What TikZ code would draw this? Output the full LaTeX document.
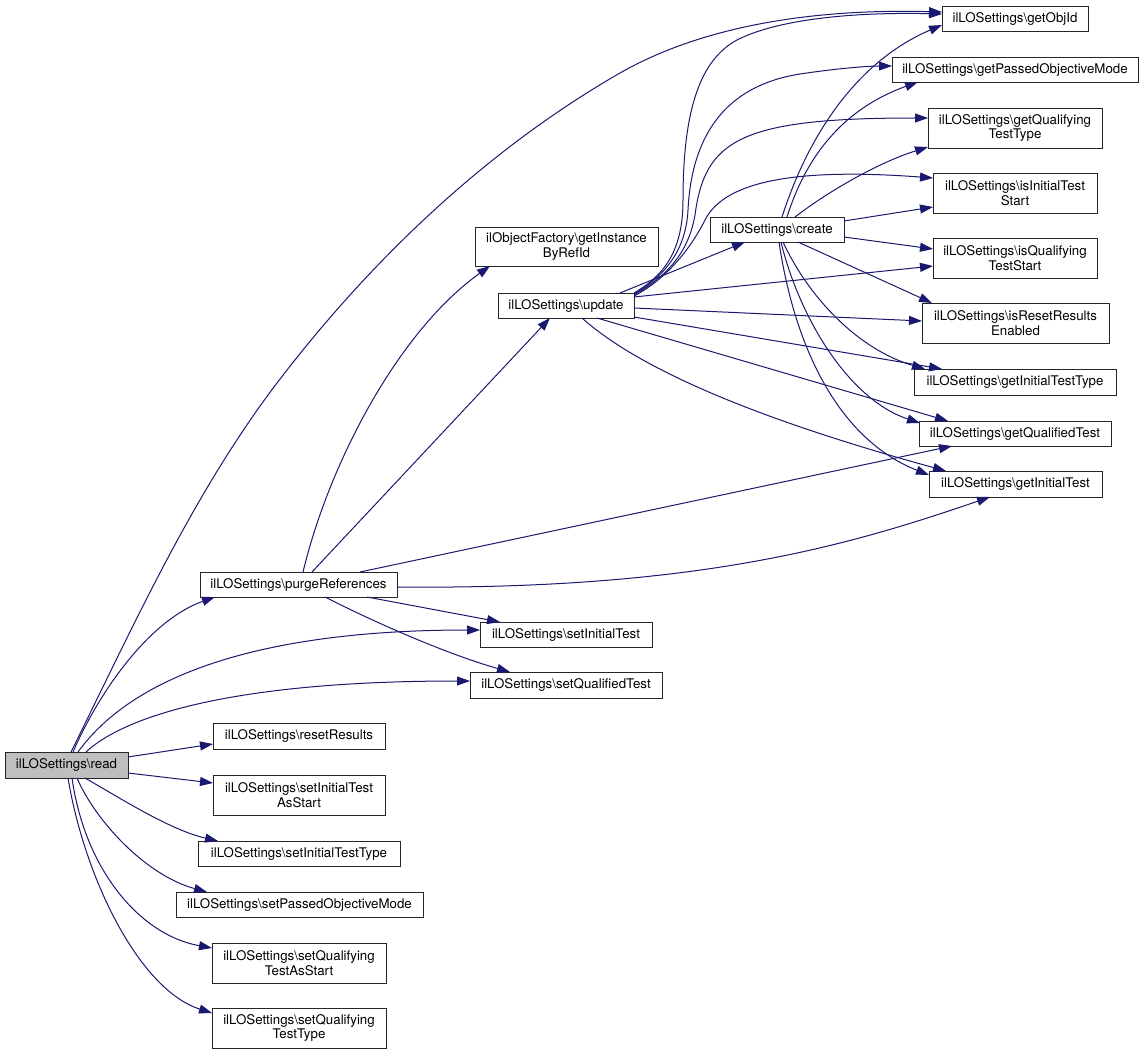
\documentclass[tikz,border=0pt]{standalone}
\usepackage{fontspec}
\setmainfont{TeX Gyre Heros}
\usetikzlibrary{arrows.meta,calc}
\definecolor{edgeblue}{HTML}{191970}
\definecolor{rootgray}{HTML}{BFBFBF}
\newcommand\fsz{\fontsize{13.3}{14.5}\selectfont}
\newcommand\bksl{\textbackslash}
\begin{document}
\begin{tikzpicture}[x=1pt,y=-1pt]
\tikzset{
 fn/.style={draw=black!85, line width=0.9pt, fill=white, inner sep=0pt, outer sep=0pt, minimum height=25pt, align=center, font=\fsz},
 cg/.style={draw=edgeblue, line width=1pt, -{Triangle[length=13pt,width=9pt]}},
}
\useasboundingbox[fill=white] (0,0) rectangle (1144,1054);
% left column
\node[fn,fill=rootgray,minimum width=123pt,minimum height=26pt] (read) at (66.5,765) {ilLOSettings\bksl read};
% second column
\node[fn,minimum width=197pt] (purge) at (298.5,584.5) {ilLOSettings\bksl purgeReferences};
\node[fn,minimum width=172pt,minimum height=26pt] (reset) at (299,736) {ilLOSettings\bksl resetResults};
\node[fn,minimum width=172pt,minimum height=40pt] (sitas) at (299,795) {ilLOSettings\bksl setInitialTest\\AsStart};
\node[fn,minimum width=202pt] (sitt) at (299,853.5) {ilLOSettings\bksl setInitialTestType};
\node[fn,minimum width=247pt] (spom) at (299.5,904.5) {ilLOSettings\bksl setPassedObjectiveMode};
\node[fn,minimum width=174pt,minimum height=40pt] (sqtas) at (299,963) {ilLOSettings\bksl setQualifying\\TestAsStart};
\node[fn,minimum width=174pt,minimum height=40pt] (sqtt) at (299,1028) {ilLOSettings\bksl setQualifying\\TestType};
% third column
\node[fn,minimum width=172pt] (sit) at (566,634.5) {ilLOSettings\bksl setInitialTest};
\node[fn,minimum width=192pt,minimum height=26pt] (sqt) at (566,685) {ilLOSettings\bksl setQualifiedTest};
\node[fn,minimum width=183pt,minimum height=39pt] (gibr) at (566.5,246.5) {ilObjectFactory\bksl getInstance\\ByRefId};
\node[fn,minimum width=136pt] (upd) at (566,305.5) {ilLOSettings\bksl update};
% fourth column
\node[fn,minimum width=134pt] (cre) at (777,229.5) {ilLOSettings\bksl create};
% right column
\node[fn,minimum width=146pt] (goi) at (1015,18.5) {ilLOSettings\bksl getObjId};
\node[fn,minimum width=246pt] (gpom) at (1015,69.5) {ilLOSettings\bksl getPassedObjectiveMode};
\node[fn,minimum width=174pt,minimum height=40pt] (gqtt) at (1015,128) {ilLOSettings\bksl getQualifying\\TestType};
\node[fn,minimum width=164pt,minimum height=40pt] (iits) at (1015,193) {ilLOSettings\bksl isInitialTest\\Start};
\node[fn,minimum width=164pt,minimum height=40pt] (iqts) at (1015,258) {ilLOSettings\bksl isQualifying\\TestStart};
\node[fn,minimum width=187pt,minimum height=40pt] (irre) at (1015.5,323) {ilLOSettings\bksl isResetResults\\Enabled};
\node[fn,minimum width=202pt,minimum height=26pt] (gitt) at (1015,382) {ilLOSettings\bksl getInitialTestType};
\node[fn,minimum width=192pt] (gqt) at (1015,433.5) {ilLOSettings\bksl getQualifiedTest};
\node[fn,minimum width=173pt,minimum height=26pt] (git) at (1015.5,484) {ilLOSettings\bksl getInitialTest};

% edges from read
\draw[cg] ($(read.north west)+(66,0)$) .. controls (134,625) and (192,495) .. (277,383) .. controls (370,261) and (486,150) .. (620,73) .. controls (713,20) and (833,9) .. ($(goi.north west)+(0,6)$);
\draw[cg] ($(read.north west)+(68,0)$) .. controls (100,690) and (150,620) .. ($(purge.north west)+(15,25)$);
\draw[cg] ($(read.north west)+(73,0)$) .. controls (130,680) and (250,630) .. ($(sit.north west)+(0,8)$);
\draw[cg] ($(read.north west)+(81,0)$) .. controls (120,720) and (220,681) .. ($(sqt.north west)+(0,9)$);
\draw[cg] ($(read.north west)+(123,5)$) -- ($(reset.north west)+(0,21)$);
\draw[cg] ($(read.north west)+(123,21)$) -- ($(sitas.north west)+(0,8)$);
\draw[cg] ($(read.north west)+(80,26)$) .. controls (120,798) and (170,830) .. ($(sitt.north west)+(20,0)$);
\draw[cg] ($(read.north west)+(72,26)$) .. controls (95,820) and (145,875) .. ($(spom.north west)+(31,0)$);
\draw[cg] ($(read.north west)+(67,26)$) .. controls (85,870) and (140,935) .. ($(sqtas.north west)+(0,5)$);
\draw[cg] ($(read.north west)+(63,26)$) .. controls (85,880) and (140,990) .. ($(sqtt.north west)+(0,5)$);

% edges from purgeReferences
\draw[cg] ($(purge.north west)+(103,0)$) .. controls (330,460) and (400,330) .. ($(gibr.north west)+(15,39)$);
\draw[cg] ($(purge.north west)+(112,0)$) -- ($(upd.north west)+(52,25)$);
\draw[cg] ($(purge.north west)+(160,0)$) -- ($(gqt.north west)+(33,25)$);
\draw[cg] ($(purge.north west)+(197,15)$) .. controls (700,590) and (850,545) .. ($(git.north west)+(61,26)$);
\draw[cg] ($(purge.north west)+(167,25)$) -- ($(sit.north west)+(20,0)$);
\draw[cg] ($(purge.north west)+(125,25)$) .. controls (380,625) and (450,655) .. ($(sqt.north west)+(40,0)$);

% edges from update
\draw[cg] ($(upd.north west)+(122,0)$) -- ($(cre.north west)+(35,25)$);
\draw[cg] ($(upd.north west)+(136,0)$) .. controls (665,275) and (683,250) .. (683,200) .. controls (683,110) and (700,60) .. (737,40) .. controls (780,18) and (860,12) .. ($(goi.north west)+(0,8)$);
\draw[cg] ($(upd.north west)+(136,1)$) .. controls (665,276) and (686,250) .. (688,210) .. controls (692,130) and (730,85) .. (800,74) .. controls (840,68) and (870,66) .. ($(gpom.north west)+(0,9)$);
\draw[cg] ($(upd.north west)+(136,2)$) .. controls (665,277) and (688,255) .. (695,215) .. controls (705,140) and (740,118) .. ($(gqtt.north west)+(0,10)$);
\draw[cg] ($(upd.north west)+(136,3)$) .. controls (665,280) and (690,250) .. (705,220) .. controls (725,180) and (800,168) .. ($(iits.north west)+(0,5)$);
\draw[cg] ($(upd.north west)+(136,4)$) -- ($(iqts.north west)+(0,28)$);
\draw[cg] ($(upd.north west)+(136,15)$) -- ($(irre.north west)+(0,18)$);
\draw[cg] ($(upd.north west)+(136,24)$) -- ($(gitt.north west)+(28,0)$);
\draw[cg] ($(upd.north west)+(99,25)$) -- ($(gqt.north west)+(29,0)$);
\draw[cg] ($(upd.north west)+(84,25)$) .. controls (640,370) and (760,420) .. ($(git.north west)+(17,0)$);

% edges from create
\draw[cg] ($(cre.north west)+(72,0)$) .. controls (810,130) and (860,60) .. ($(goi.north west)+(0,19)$);
\draw[cg] ($(cre.north west)+(77,0)$) .. controls (805,160) and (840,110) .. ($(gpom.north west)+(26,25)$);
\draw[cg] ($(cre.north west)+(85,0)$) .. controls (830,190) and (880,162) .. ($(gqtt.north west)+(0,39)$);
\draw[cg] ($(cre.north west)+(134,4)$) -- ($(iits.north west)+(0,34)$);
\draw[cg] ($(cre.north west)+(134,20)$) -- ($(iqts.north west)+(0,11)$);
\draw[cg] ($(cre.north west)+(88,25)$) -- ($(irre.north west)+(10,0)$);
\draw[cg] ($(cre.north west)+(73,25)$) .. controls (810,300) and (860,350) .. ($(gitt.north west)+(11,0)$);
\draw[cg] ($(cre.north west)+(71,25)$) .. controls (800,320) and (850,400) .. ($(gqt.north west)+(1,2)$);
\draw[cg] ($(cre.north west)+(69,25)$) .. controls (795,350) and (840,440) .. ($(git.north west)+(0,4)$);
\end{tikzpicture}
\end{document}
